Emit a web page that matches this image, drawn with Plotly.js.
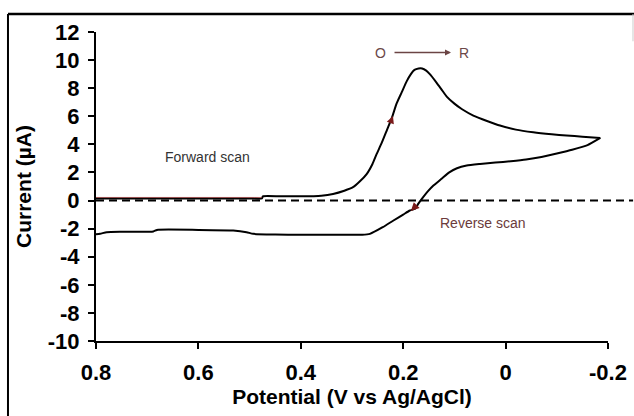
<!DOCTYPE html>
<html>
<head>
<meta charset="utf-8">
<script src="https://cdn.plot.ly/plotly-3.0.1.min.js"></script>
<style>
  html, body { margin: 0; padding: 0; background: #fff; }
  #chart { width: 634px; height: 416px; }
</style>
</head>
<body>
<div id="chart"></div>
<script>
// Forward scan (potential decreasing from 0.8 V to -0.185 V)
const forwardPotential = [0.8, 0.7, 0.6, 0.5, 0.476, 0.474, 0.44, 0.4, 0.36, 0.337, 0.315, 0.298, 0.285, 0.271, 0.26, 0.252, 0.242, 0.232, 0.222, 0.213, 0.203, 0.193, 0.185, 0.178, 0.17, 0.163, 0.155, 0.148, 0.135, 0.125, 0.115, 0.1, 0.085, 0.063, 0.035, 0.011, -0.02, -0.054, -0.09, -0.119, -0.15, -0.185];
const forwardCurrent   = [0.15, 0.15, 0.15, 0.15, 0.15, 0.3, 0.3, 0.3, 0.35, 0.47, 0.7, 0.95, 1.35, 1.9, 2.6, 3.3, 4.1, 5.0, 5.9, 6.9, 7.7, 8.5, 9.0, 9.3, 9.4, 9.4, 9.25, 9.0, 8.4, 7.9, 7.4, 6.9, 6.5, 6.05, 5.65, 5.34, 5.05, 4.86, 4.72, 4.63, 4.55, 4.46];

// Reverse scan (potential increasing from -0.185 V back to 0.8 V)
const reversePotential = [-0.185, -0.16, -0.13, -0.1, -0.07, -0.04, -0.01, 0.02, 0.05, 0.076, 0.095, 0.11, 0.125, 0.141, 0.152, 0.161, 0.17, 0.177, 0.187, 0.2, 0.219, 0.24, 0.265, 0.28, 0.3, 0.35, 0.4, 0.45, 0.493, 0.506, 0.532, 0.6, 0.681, 0.688, 0.75, 0.779, 0.792, 0.8];
const reverseCurrent   = [4.46, 3.95, 3.62, 3.35, 3.1, 2.92, 2.8, 2.7, 2.6, 2.49, 2.3, 2.0, 1.55, 1.07, 0.65, 0.24, -0.2, -0.59, -0.71, -1.0, -1.42, -1.9, -2.37, -2.44, -2.44, -2.44, -2.44, -2.42, -2.37, -2.25, -2.13, -2.09, -2.09, -2.2, -2.22, -2.25, -2.37, -2.4];

// Red overlay on the early forward baseline
const overlayPotential = [0.8, 0.7, 0.6, 0.5, 0.476];
const overlayCurrent   = [0.22, 0.22, 0.22, 0.22, 0.22];

const xTickVals = [0.8, 0.6, 0.4, 0.2, 0, -0.2];
const xTickText = ["0.8", "0.6", "0.4", "0.2", "0", "-0.2"];
const yTickVals = [-10, -8, -6, -4, -2, 0, 2, 4, 6, 8, 10, 12];
const yTickText = ["-10", "-8", "-6", "-4", "-2", "0", "2", "4", "6", "8", "10", "12"];

const FONT = "Liberation Sans, Arial, Helvetica, sans-serif";

const traces = [
  {
    x: forwardPotential, y: forwardCurrent, type: "scatter", mode: "lines",
    line: { color: "#000", width: 2, shape: "spline", smoothing: 0.5 }, hoverinfo: "skip", showlegend: false
  },
  {
    x: reversePotential, y: reverseCurrent, type: "scatter", mode: "lines",
    line: { color: "#000", width: 2, shape: "spline", smoothing: 0.5 }, hoverinfo: "skip", showlegend: false
  },
  {
    x: overlayPotential, y: overlayCurrent, type: "scatter", mode: "lines",
    line: { color: "#a33a3a", width: 1 }, opacity: 0.7, hoverinfo: "skip", showlegend: false
  }
];

const layout = {
  width: 634, height: 416,
  margin: { l: 96, r: 26, t: 32, b: 75, pad: 0 },
  paper_bgcolor: "#fff", plot_bgcolor: "#fff",
  showlegend: false,
  font: { family: FONT, color: "#000" },
  xaxis: {
    range: [0.8, -0.2], tickvals: xTickVals, ticktext: xTickText,
    ticks: "outside", ticklen: 6, tickwidth: 2, tickcolor: "#000",
    showline: true, linewidth: 2, linecolor: "#000",
    showgrid: false, zeroline: false, ticklabelstandoff: 5,
    tickfont: { family: FONT, size: 22, color: "#000", weight: "bold" },
    title: { text: "Potential (V vs Ag/AgCl)", font: { family: FONT, size: 21, color: "#000", weight: "bold" }, standoff: 3 }
  },
  yaxis: {
    range: [-10, 12], tickvals: yTickVals, ticktext: yTickText,
    ticks: "outside", ticklen: 6, tickwidth: 2, tickcolor: "#000",
    showline: true, linewidth: 2, linecolor: "#000",
    showgrid: false, zeroline: false, ticklabelstandoff: 4,
    tickfont: { family: FONT, size: 22, color: "#000", weight: "bold" },
    title: { text: "Current (µA)", font: { family: FONT, size: 21, color: "#000", weight: "bold" }, standoff: 10 }
  },
  shapes: [
    { type: "line", xref: "paper", yref: "y", x0: 0, x1: 1.049, y0: 0, y1: 0,
      line: { color: "#000", width: 2, dash: "8px,5px" } },
    { type: "line", xref: "paper", yref: "paper", x0: -0.1719, x1: -0.1719, y0: 1.0583, y1: -0.25,
      line: { color: "#000", width: 2 } },
    { type: "line", xref: "paper", yref: "paper", x0: -0.1719, x1: 1.06, y0: 1.0583, y1: 1.0583,
      line: { color: "#000", width: 2.5 } },
    { type: "line", xref: "paper", yref: "paper", x0: 1.0488, x1: 1.0488, y0: 1.0583, y1: 0.97,
      line: { color: "#ccc", width: 1 } }
  ],
  annotations: [
    { x: 0.583, y: 3.1, xref: "x", yref: "y", text: "Forward scan", showarrow: false,
      font: { family: FONT, size: 14, color: "#333" } },
    { x: 0.044, y: -1.58, xref: "x", yref: "y", text: "Reverse scan", showarrow: false,
      font: { family: FONT, size: 14, color: "#6b3b3b" } },
    { x: 0.245, y: 10.54, xref: "x", yref: "y", text: "O", showarrow: false,
      font: { family: FONT, size: 14, color: "#6b4848" } },
    { x: 0.082, y: 10.54, xref: "x", yref: "y", text: "R", showarrow: false,
      font: { family: FONT, size: 14, color: "#6b4848" } },
    { x: 0.1066, y: 10.54, xref: "x", yref: "y", text: "", showarrow: true,
      ax: -58, ay: 0, arrowhead: 2, arrowsize: 0.8, arrowwidth: 1.5, arrowcolor: "#6b4444" },
    { x: 0.22, y: 6.02, xref: "x", yref: "y", text: "", showarrow: true,
      ax: -3, ay: 8, arrowhead: 2, arrowsize: 1, arrowwidth: 1.5, arrowcolor: "#7a1a1a" },
    { x: 0.185, y: -0.74, xref: "x", yref: "y", text: "", showarrow: true,
      ax: 7, ay: -7, arrowhead: 2, arrowsize: 1.1, arrowwidth: 1.5, arrowcolor: "#7a1a1a" }
  ]
};

Plotly.newPlot("chart", traces, layout, { staticPlot: true, displayModeBar: false });
</script>
</body>
</html>
